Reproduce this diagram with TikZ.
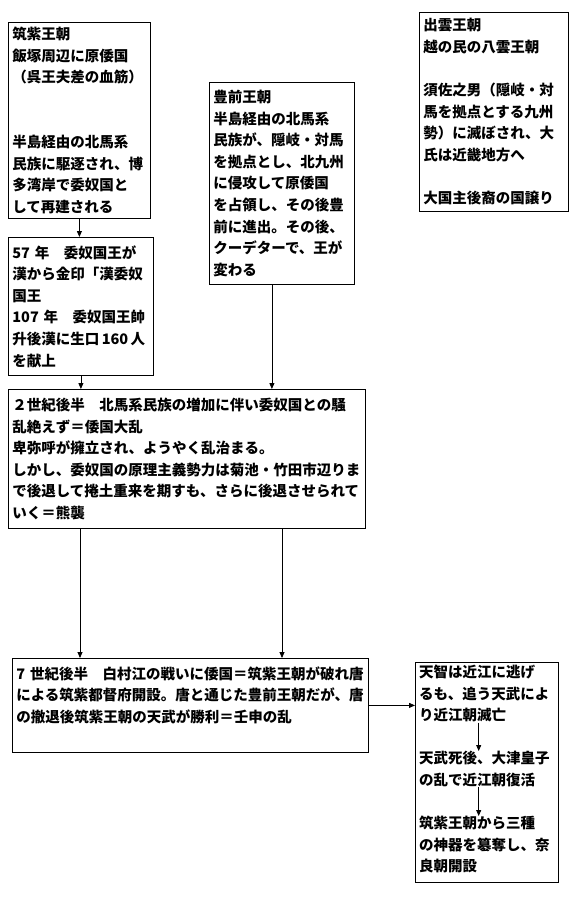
\documentclass[tikz,border=0pt]{standalone}
\usepackage{fontspec}
\setmainfont{Noto Sans CJK JP}
\usepackage{tikz}
\usetikzlibrary{arrows.meta}
\newcommand{\jptext}{\fontsize{14.5}{21.6}\selectfont\bfseries}

\begin{document}
\begin{tikzpicture}[
    x=1pt, y=-1pt,
    dynasty/.style={
        rectangle, draw=black, line width=0.8pt,
        anchor=north west, align=left,
        inner xsep=4pt, inner ysep=4pt,
        text width=#1, font=\jptext
    },
    inbox/.style={
        anchor=north west, align=left, inner sep=0pt,
        text width=#1, font=\jptext
    },
    arrow/.style={-{Triangle[length=6pt, width=5pt]}, line width=0.8pt}
]

\useasboundingbox[fill=white] (0,0) rectangle (587,906);

\node[dynasty=134pt, minimum height=196pt] (chikushi) at (8,22) {
    筑紫王朝\\
    飯塚周辺に原倭国\\
    （呉王夫差の血筋）\\
    \mbox{}\\
    \mbox{}\\
    半島経由の北馬系\\
    民族に駆逐され、博\\
    多湾岸で委奴国と\\
    して再建される
};

\node[dynasty=137pt, minimum height=202pt] (buzen) at (209,82) {
    豊前王朝\\
    半島経由の北馬系\\
    民族が、隠岐・対馬\\
    を拠点とし、北九州\\
    に侵攻して原倭国\\
    を占領し、その後豊\\
    前に進出。その後、\\
    クーデターで、王が\\
    変わる
};

\node[dynasty=141pt, minimum height=199pt] (izumo) at (419,12) {
    出雲王朝\\
    越の民の八雲王朝\\
    \mbox{}\\
    須佐之男（隠岐・対\\
    馬を拠点とする九州\\
    勢）に滅ぼされ、大\\
    氏は近畿地方へ\\
    \mbox{}\\
    大国主後裔の国譲り
};

\node[dynasty=137pt, minimum height=138pt] (wanokuni) at (8,237) {
    57~年　委奴国王が\\
    漢から金印「漢委奴\\
    国王\\
    107~年　委奴国王帥\\
    \mbox{升後漢に生口\,160\,人}\\
    を献上
};

\node[dynasty=349pt, minimum height=139pt] (tairan) at (8,389) {
    ２世紀後半　北馬系民族の増加に伴い委奴国との騒\\
    乱絶えず＝倭国大乱\\
    卑弥呼が擁立され、ようやく乱治まる。\\
    しかし、委奴国の原理主義勢力は菊池・竹田市辺りま\\
    で後退して捲土重来を期すも、さらに後退させられて\\
    いく＝熊襲
};

\node[dynasty=348pt, minimum height=94pt] (hakuson) at (12,658) {
    7~世紀後半　白村江の戦いに倭国＝筑紫王朝が破れ唐\\
    による筑紫都督府開設。唐と通じた豊前王朝だが、唐\\
    の撤退後筑紫王朝の天武が勝利＝壬申の乱\\
    \mbox{}
};

% frame on the right, with its three steps inside
\node[dynasty=135pt, minimum height=220pt] (omi) at (415,662) {};
\node[inbox=135pt] (tenji) at (419,665) {
    天智は近江に逃げ\\
    るも、追う天武によ\\
    り近江朝滅亡
};
\node[inbox=135pt] (otsu) at (419,751) {
    天武死後、大津皇子\\
    の乱で近江朝復活
};
\node[inbox=135pt] (nara) at (419,816) {
    筑紫王朝から三種\\
    の神器を簒奪し、奈\\
    良朝開設
};

\coordinate (b1) at ([xshift=-10pt]buzen.south);
\coordinate (e1) at ([xshift=72pt]tairan.south west);
\coordinate (e2) at ([xshift=274pt]tairan.south west);

\draw[arrow] (chikushi.south) -- (chikushi.south |- wanokuni.north);
\draw[arrow] (wanokuni.south) -- (wanokuni.south |- tairan.north);
\draw[arrow] (b1) -- (b1 |- tairan.north);
\draw[arrow] (e1) -- (e1 |- hakuson.north);
\draw[arrow] (e2) -- (e2 |- hakuson.north);
\draw[arrow] (hakuson.east) -- (hakuson.east -| omi.west);
\draw[arrow] ([xshift=-8pt]tenji.south) -- ([xshift=-8pt]otsu.north);
\draw[arrow] ([xshift=-8pt]otsu.south) -- ([xshift=-8pt]nara.north);

\end{tikzpicture}
\end{document}
